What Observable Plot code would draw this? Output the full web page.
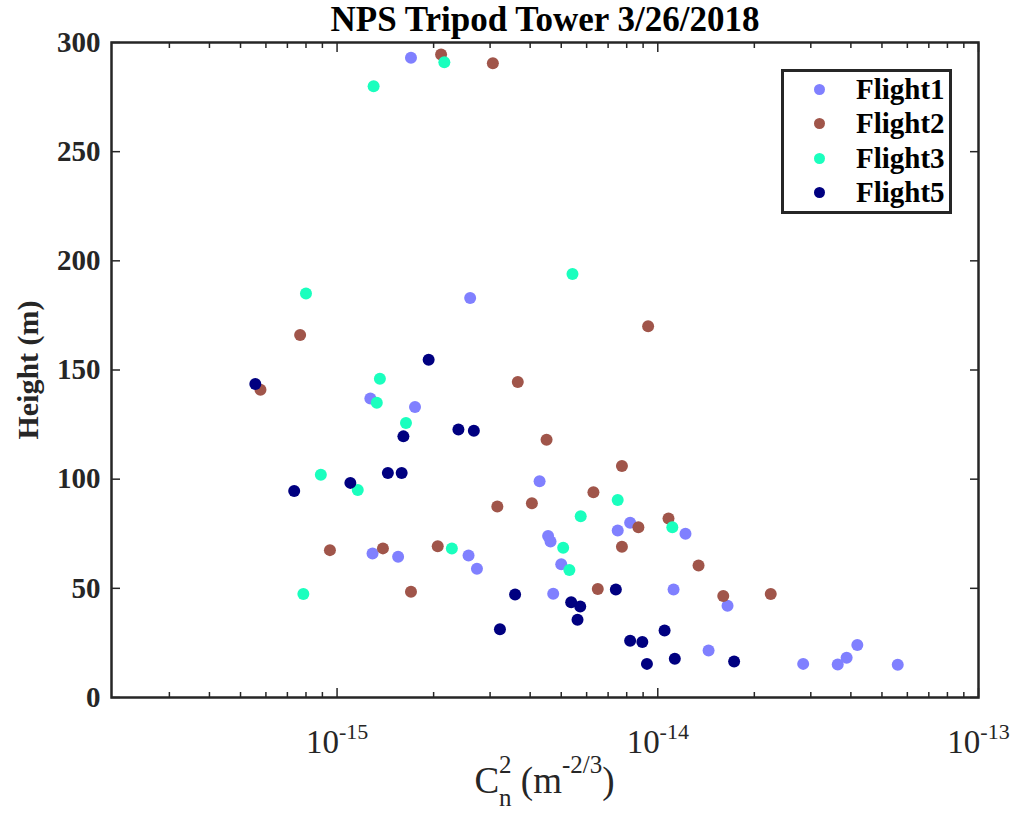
<!DOCTYPE html>
<html>
<head>
<meta charset="utf-8">
<script src="https://cdn.jsdelivr.net/npm/d3@7"></script>
<script src="https://cdn.jsdelivr.net/npm/@observablehq/plot@0.6"></script>
<style>
  html, body { margin: 0; padding: 0; background: #fff; }
  #wrap { position: relative; width: 1013px; height: 815px; font-family: "Liberation Serif", "Times New Roman", serif; color: #000; }
  #wrap svg { position: absolute; left: 0; top: 0; }
  #xlab { position: absolute; left: 0; width: 1089px; text-align: center; top: 752px; font-size: 37px; white-space: nowrap; line-height: 37px; color: #262626; }
  #xlab .up { font-size: 25px; line-height: 1; vertical-align: 20px; }
  #xlab .dn { font-size: 25px; line-height: 1; vertical-align: -13px; margin-left: -12.5px; }
  #legend { position: absolute; left: 781px; top: 69px; width: 165px; height: 139px; border: 3px solid #262626; background: #fff; }
  #legend .row { height: 34.5px; display: flex; align-items: center; }
  #legend .sw { width: 11px; height: 11px; border-radius: 50%; margin-left: 29.5px; margin-right: 31.5px; flex: none; }
  #legend .lb { font-size: 29px; font-weight: bold; }
</style>
</head>
<body>
<div id="wrap"></div>
<script>
// ---- data ----
const flights = ["Flight1", "Flight2", "Flight3", "Flight5"];
const flightColors = ["#8080FF", "#A0554A", "#1AFFBE", "#000080"];

const flight1Cn2 = [1.7e-15, 2.6e-15, 1.27e-15, 1.75e-15, 4.28e-15, 8.2e-15, 7.5e-15, 1.22e-14, 4.55e-15, 4.63e-15, 1.29e-15, 1.55e-15, 2.57e-15, 2.73e-15, 5.0e-15, 4.72e-15, 1.12e-14, 1.65e-14, 1.44e-14, 2.84e-14, 3.64e-14, 3.88e-14, 4.19e-14, 5.6e-14];
const flight1Height = [293, 183, 137, 133, 99, 80, 76.5, 75, 74, 71.5, 66, 64.5, 65, 59, 61, 47.5, 49.5, 42, 21.5, 15.4, 15.1, 18.2, 24, 15];

const flight2Cn2 = [2.11e-15, 3.06e-15, 9.33e-15, 7.67e-16, 5.77e-16, 3.66e-15, 4.5e-15, 7.73e-15, 6.3e-15, 4.05e-15, 3.16e-15, 1.08e-14, 8.7e-15, 7.73e-15, 1.34e-14, 9.5e-16, 1.39e-15, 2.06e-15, 1.7e-15, 6.5e-15, 1.6e-14, 2.25e-14];
const flight2Height = [294.5, 290.5, 170, 166, 141, 144.5, 118, 106, 94, 89, 87.5, 82, 78, 69, 60.5, 67.5, 68.3, 69.3, 48.4, 49.7, 46.5, 47.4];

const flight3Cn2 = [2.16e-15, 1.3e-15, 5.42e-15, 8.0e-16, 1.36e-15, 1.33e-15, 1.64e-15, 8.9e-16, 1.16e-15, 7.5e-15, 5.75e-15, 1.11e-14, 5.07e-15, 2.28e-15, 5.3e-15, 7.85e-16];
const flight3Height = [291, 280, 194, 185, 146, 135, 125.7, 102, 95, 90.5, 83, 78, 68.6, 68.2, 58.4, 47.4];

const flight5Cn2 = [5.56e-16, 1.93e-15, 1.61e-15, 2.39e-15, 2.67e-15, 1.44e-15, 1.59e-15, 1.1e-15, 7.35e-16, 7.4e-15, 3.59e-15, 5.37e-15, 5.73e-15, 5.62e-15, 3.22e-15, 1.05e-14, 8.2e-15, 8.95e-15, 1.13e-14, 9.25e-15, 1.73e-14];
const flight5Height = [143.6, 154.7, 119.6, 122.8, 122.2, 102.8, 102.8, 98.3, 94.6, 49.5, 47.2, 43.6, 41.7, 35.6, 31.3, 30.7, 26, 25.4, 17.7, 15.4, 16.5];

const xMajorTicks = [1e-15, 1e-14, 1e-13];
const xMinorTicks = [3e-16, 4e-16, 5e-16, 6e-16, 7e-16, 8e-16, 9e-16,
                     2e-15, 3e-15, 4e-15, 5e-15, 6e-15, 7e-15, 8e-15, 9e-15,
                     2e-14, 3e-14, 4e-14, 5e-14, 6e-14, 7e-14, 8e-14, 9e-14];
const yTicks = [0, 50, 100, 150, 200, 250, 300];

const titleText = "NPS Tripod Tower 3/26/2018";
const yLabelText = "Height (m)";

// ---- build table ----
const series = [
  [flight1Cn2, flight1Height],
  [flight2Cn2, flight2Height],
  [flight3Cn2, flight3Height],
  [flight5Cn2, flight5Height]
];
const rows = [];
series.forEach(([xs, hs], i) => xs.forEach((x, j) => rows.push({flight: flights[i], cn2: x, h: hs[j]})));

const axisColor = "#262626";

const chart = Plot.plot({
  width: 1013,
  height: 815,
  marginLeft: 111,
  marginRight: 35,
  marginTop: 42,
  marginBottom: 118,
  style: {fontFamily: "'Liberation Serif', 'Times New Roman', serif", background: "white", color: "#000", overflow: "visible"},
  x: {type: "log", domain: [1.98e-16, 1e-13]},
  y: {domain: [0, 300]},
  color: {domain: flights, range: flightColors},
  marks: [
    Plot.dot(rows, {x: "cn2", y: "h", fill: "flight", r: 6}),
    // bottom axis
    Plot.axisX({ticks: xMajorTicks, tickSize: -9, tickPadding: 41, stroke: axisColor, strokeWidth: 1.5,
      tickFormat: d => "10^" + Math.round(Math.log10(d)), fontSize: 33, fill: "#262626", label: null}),
    Plot.axisX({ticks: xMinorTicks, tickSize: -5, stroke: axisColor, strokeWidth: 1.5, tickFormat: () => "", label: null}),
    // top axis (mirrored ticks)
    Plot.axisX({anchor: "top", ticks: xMajorTicks, tickSize: -9, stroke: axisColor, strokeWidth: 1.5, tickFormat: () => "", label: null}),
    Plot.axisX({anchor: "top", ticks: xMinorTicks, tickSize: -5, stroke: axisColor, strokeWidth: 1.5, tickFormat: () => "", label: null}),
    // left axis
    Plot.axisY({ticks: yTicks, tickSize: -9, tickPadding: 20, stroke: axisColor, strokeWidth: 1.5,
      fontSize: 29, fontWeight: "bold", fill: "#262626", label: null}),
    // right axis (mirrored ticks)
    Plot.axisY({anchor: "right", ticks: yTicks, tickSize: -9, stroke: axisColor, strokeWidth: 1.5, tickFormat: () => "", label: null}),
    Plot.frame({stroke: axisColor, strokeWidth: 2.5}),
    Plot.text([yLabelText], {text: d => d, frameAnchor: "left", textAnchor: "middle", lineAnchor: "middle",
      dx: -83, rotate: -90, fontSize: 30, fontWeight: "bold", fill: "#262626"}),
    Plot.text([titleText], {text: d => d, frameAnchor: "top", lineAnchor: "middle", dy: -23,
      fontSize: 35, fontWeight: "bold", fill: "#000"})
  ]
});

const wrap = document.getElementById("wrap");
wrap.appendChild(chart);

// exponent superscripts on x tick labels
d3.select(chart).selectAll("text").each(function() {
  const t = this.textContent;
  const m = /^10\^(-?\d+)$/.exec(t);
  if (m) {
    const sel = d3.select(this);
    sel.text("10");
    sel.append("tspan").attr("dy", "-14").attr("font-size", 22).text(m[1]);
  }
});

// x label
const xlab = document.createElement("div");
xlab.id = "xlab";
xlab.innerHTML = 'C<span class="up">2</span><span class="dn">n</span> (m<span class="up">-2/3</span>)';
wrap.appendChild(xlab);

// legend
const legend = document.createElement("div");
legend.id = "legend";
flights.forEach((f, i) => {
  const row = document.createElement("div");
  row.className = "row";
  const sw = document.createElement("span");
  sw.className = "sw";
  sw.style.background = flightColors[i];
  const lb = document.createElement("span");
  lb.className = "lb";
  lb.textContent = f;
  row.appendChild(sw);
  row.appendChild(lb);
  legend.appendChild(row);
});
wrap.appendChild(legend);
</script>
</body>
</html>
